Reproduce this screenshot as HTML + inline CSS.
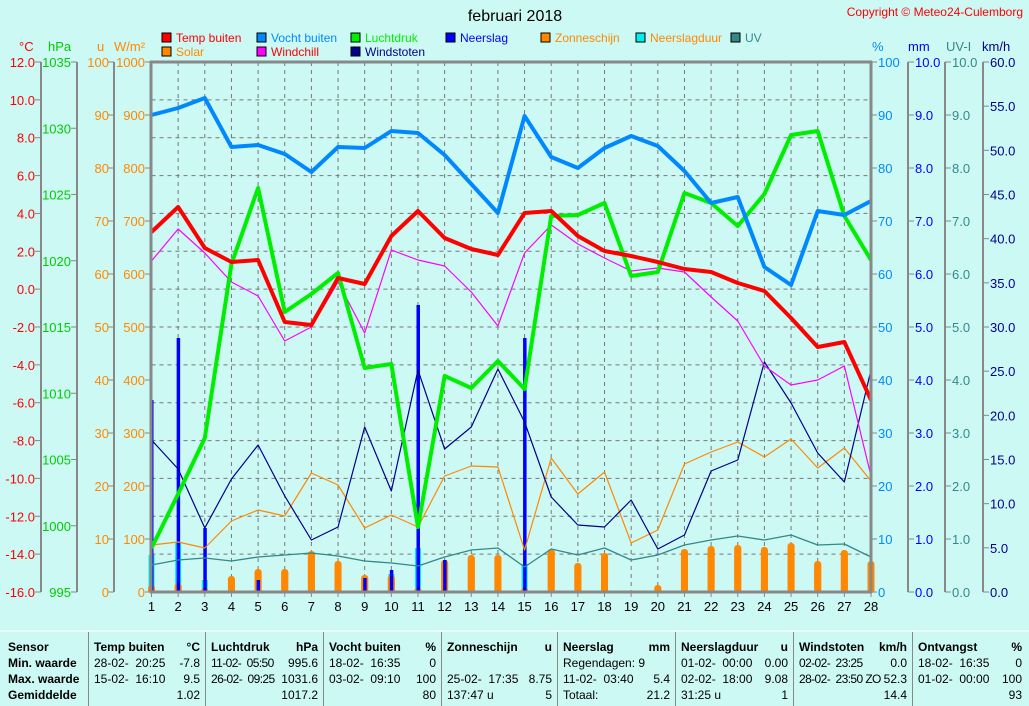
<!DOCTYPE html>
<html><head><meta charset="utf-8"><style>
body{margin:0;background:#cdf9f5;width:1029px;height:704px;overflow:hidden;font-family:"Liberation Sans",sans-serif}
svg{position:absolute;left:0;top:0;font-family:"Liberation Sans",sans-serif}
#tbl{position:absolute;left:0;top:630px;width:1029px;height:74px;background:#cdf9f5;border-top:2px solid #e8fffd;font-size:12px}
.c{position:absolute;top:0;height:74px;border-left:1px solid #888}
.r{position:absolute;white-space:nowrap}
</style></head><body>
<svg id="s" width="1029" height="630" font-size="12"></svg>
<div id="tbl"></div>
<script>
const s=document.getElementById('s');let h='';
const X0=151.5,DX=(871-151.5)/27,Y0=62,Y1=592,H=530;
const X=d=>X0+(d-1)*DX;
for(let k=1;k<14;k++){const y=Y0+k*H/14;h+=`<line x1="${X0}" x2="871" y1="${y}" y2="${y}" stroke="#777" stroke-dasharray="4,4"/>`;}
for(let d=2;d<28;d++)h+=`<line x1="${X(d)}" x2="${X(d)}" y1="62" y2="592" stroke="#777" stroke-dasharray="4,4"/>`;
function axis(lx,col,vals,lblx,anchor){h+=`<line x1="${lx}" x2="${lx}" y1="62" y2="592" stroke="#888" stroke-width="2"/>`;
 vals.forEach((v,i)=>{const y=Y0+i*H/(vals.length-1);const tx=anchor=='end'?lx-6:lx;h+=`<line x1="${tx}" x2="${tx+6}" y1="${y}" y2="${y}" stroke="#888"/><text x="${lblx}" y="${y+5}" fill="${col}" text-anchor="${anchor}" font-size="13">${v}</text>`;});}
let t=[];for(let v=12;v>=-16;v-=2)t.push(v.toFixed(1));
axis(41,'#f00',t,35,'end');
t=[];for(let v=1035;v>=995;v-=5)t.push(v);axis(77,'#0c0',t,71,'end');
t=[];for(let v=100;v>=0;v-=10)t.push(v);axis(114,'#f80',t,109,'end');
t=[];for(let v=1000;v>=0;v-=100)t.push(v);
t.forEach((v,i)=>{const y=Y0+i*H/10;h+=`<line x1="145" x2="151" y1="${y}" y2="${y}" stroke="#888"/><text x="145" y="${y+5}" fill="#f80" text-anchor="end" font-size="13">${v}</text>`;});
function raxis(lx,col,vals){if(lx!=871)h+=`<line x1="${lx}" x2="${lx}" y1="62" y2="592" stroke="#888" stroke-width="2"/>`;
 vals.forEach((v,i)=>{const y=Y0+i*H/(vals.length-1);h+=`<line x1="${lx}" x2="${lx+6}" y1="${y}" y2="${y}" stroke="#888"/><text x="${lx+7}" y="${y+5}" fill="${col}" font-size="13">${v}</text>`;});}
t=[];for(let v=100;v>=0;v-=10)t.push(v);raxis(871,'#08f',t);
t=[];for(let v=10;v>=0;v--)t.push(v.toFixed(1));raxis(908,'#00f',t);raxis(945,'#388',t);
t=[];for(let v=60;v>=0;v-=5)t.push(v.toFixed(1));raxis(983,'#008',t);
[['°C',19,'#f00'],['hPa',48,'#0c0'],['u',97,'#f80'],['W/m²',114,'#f80'],['%',872,'#08f'],['mm',908,'#00f'],['UV-I',946,'#388'],['km/h',982,'#008']].forEach(a=>h+=`<text x="${a[1]}" y="51" fill="${a[2]}" font-size="13">${a[0]}</text>`);
const zon={1:585,2:583,3:588,4:576,5:569,6:569,7:551,8:561,9:575,10:575,11:588,12:560,13:555,14:555,15:588,16:549,17:563,18:553,20:585,21:549,22:546,23:545,24:547,25:543,26:561,27:550,28:561};
const duur={1:555,2:542,3:580,10:574,11:548,15:564};
const rain={1:400,2:338,3:528,5:580,9:578,10:570,11:305,12:560,15:338};
for(const d in duur)h+=`<rect x="${X(+d)-3}" y="${duur[d]}" width="6" height="${592-duur[d]}" fill="#0ee"/>`;
for(const d in zon)h+=`<rect x="${X(+d)-3.5}" y="${zon[d]}" width="7" height="${592-zon[d]}" rx="3" fill="#f80"/><rect x="${X(+d)-3.5}" y="${zon[d]+3}" width="7" height="${589-zon[d]}" fill="#f80"/>`;
for(const d in rain)h+=`<rect x="${X(+d)-1.5}" y="${rain[d]}" width="3.5" height="${592-rain[d]}" fill="#00f"/>`;
function line(a,col,w){h+=`<polyline fill="none" stroke="${col}" stroke-width="${w}" stroke-linejoin="round" points="${a.map((y,i)=>X(i+1)+','+y).join(' ')}"/>`;}
line([565,560,558,561,557,555,553,556,561,563,566,557,550,548,567,549,555,548,560,555,545,540,536,540,535,545,544,557],'#388',1.3);
line([545,542,548,521,510,516,473,485,528,515,527,476,466,467,550,458,494,472,543,530,464,452,442,457,439,468,448,481],'#f80',1.2);
line([440,469,528,479,445,496,540,527,427,491,370,449,427,369,422,497,525,527,500,549,535,471,460,362,403,453,482,370],'#008',1.2);
line([261,229,253,282,296,341,327,282,333,250,260,266,292,326,253,225,244,258,271,268,272,297,321,366,385,380,366,476],'#f0f',1.2);
line([548,494,438,264,188,312,294,273,368,364,527,376,388,361,389,216,215,203,276,272,193,203,226,194,135,131,216,260],'#0e0',4);
line([115,108,98,147,145,154,172,147,148,131,133,155,184,213,116,157,168,148,136,146,171,203,197,267,285,211,215,201],'#08f',4);
line([232,207,248,262,260,322,325,278,284,236,211,238,249,255,213,211,236,251,256,262,269,272,283,291,318,347,342,400],'#f00',4);
h+=`<line x1="151" x2="151" y1="61" y2="593" stroke="#888" stroke-width="3"/><line x1="871" x2="871" y1="61" y2="593" stroke="#888" stroke-width="3"/><line x1="150" x2="872" y1="62" y2="62" stroke="#888" stroke-width="3"/><line x1="150" x2="872" y1="592" y2="592" stroke="#888" stroke-width="3"/>`;
for(let d=1;d<=28;d++)h+=`<line x1="${X(d)}" x2="${X(d)}" y1="592" y2="597" stroke="#888"/><text x="${X(d)}" y="611" text-anchor="middle" font-size="13">${d}</text>`;
h+=`<text x="515" y="21" text-anchor="middle" font-size="16">februari 2018</text><text x="1023" y="16" text-anchor="end" fill="#f00" font-size="12">Copyright © Meteo24-Culemborg</text>`;
[[162,38,'#f00','Temp buiten'],[257,38,'#08f','Vocht buiten'],[351,38,'#0e0','Luchtdruk'],[446,38,'#00f','Neerslag'],[541,38,'#f80','Zonneschijn'],[636,38,'#0ee','Neerslagduur'],[731,38,'#388','UV'],[162,52,'#f80','Solar'],[257,52,'#f0f','Windchill'],[351,52,'#008','Windstoten']].forEach(l=>{const tc=l[3]=='Solar'||l[3]=='Zonneschijn'||l[3]=='Neerslagduur'?'#f80':(l[3]=='Windchill'?'#f00':l[2]);h+=`<rect x="${l[0]}" y="${l[1]-5}" width="9" height="9" fill="${l[2]}" stroke="#000"/><text x="${l[0]+14}" y="${l[1]+4}" fill="${tc}" font-size="12">${l[3]}</text>`;});
s.innerHTML=h;
const T=document.getElementById('tbl');let th='';
[88,205,323,441,557,675,793,912].forEach(x=>th+=`<div class="c" style="left:${x}px"></div>`);
const rows=[8,24,40,56];
function cell(x,r,txt,bold,right,ls){th+=`<div class="r" style="${right?'right:'+(1029-right)+'px':'left:'+x+'px'};top:${rows[r]}px;${bold?'font-weight:bold;':''}${ls?'letter-spacing:-0.6px;':''}">${txt}</div>`;}
['Sensor','Min. waarde','Max. waarde','Gemiddelde'].forEach((t,i)=>cell(8,i,t,1));
const data=[
[94,'Temp buiten','°C',['28-02-  20:25','-7.8'],['15-02-  16:10','9.5'],['','1.02']],
[211,'Luchtdruk','hPa',['11-02-  05:50','995.6'],['26-02-  09:25','1031.6'],['','1017.2']],
[329,'Vocht buiten','%',['18-02-  16:35','0'],['03-02-  09:10','100'],['','80']],
[447,'Zonneschijn','u',['',''],['25-02-  17:35','8.75'],['137:47 u','5']],
[563,'Neerslag','mm',['Regendagen: 9',''],['11-02-  03:40','5.4'],['Totaal:','21.2']],
[681,'Neerslagduur','u',['01-02-  00:00','0.00'],['02-02-  18:00','9.08'],['31:25 u','1']],
[799,'Windstoten','km/h',['02-02-  23:25','0.0'],['28-02-  23:50 ZO','52.3'],['','14.4']],
[918,'Ontvangst','%',['18-02-  16:35','0'],['01-02-  00:00','100'],['','93']]];
const rights=[200,318,436,552,670,788,907,1022];
data.forEach((c,i)=>{cell(c[0],0,c[1],1);cell(0,0,c[2],1,rights[i]);for(let r=1;r<=3;r++){cell(c[0],r,c[r+2][0].replace(/ /g,'&nbsp;'),0,0,i==6||i==1);cell(0,r,c[r+2][1],0,rights[i]);}});
T.innerHTML=th;
</script>
</body></html>
